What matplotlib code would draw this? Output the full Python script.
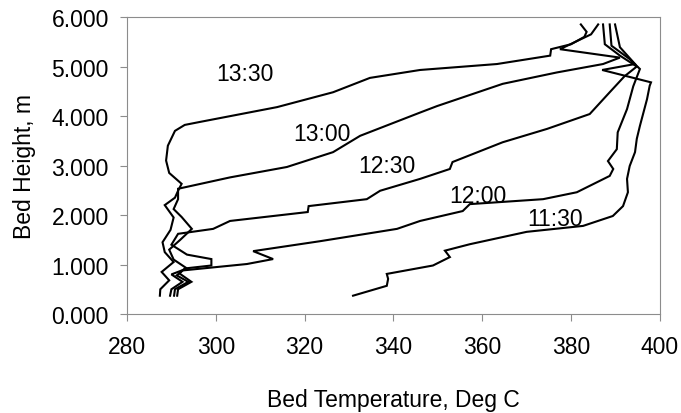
import matplotlib
matplotlib.use('Agg')
import matplotlib.pyplot as plt

plt.rcParams['font.family'] = ['Liberation Sans', 'DejaVu Sans']

# (temperature, height) traces, bottom to top
t_1130 = [330.9, 338.5, 338.8, 338.5, 348.9, 352.7, 351.6, 357.2, 370.0, 382.7,
          389.4, 391.7, 392.8, 392.6, 393.2, 394.4, 394.8, 395.5, 397.1, 397.7,
          398.0, 387.0, 394.4, 391.0, 389.9]
h_1130 = [0.37, 0.57, 0.71, 0.81, 0.98, 1.15, 1.28, 1.41, 1.66, 1.78,
          1.98, 2.18, 2.46, 2.73, 2.99, 3.27, 3.54, 3.80, 4.34, 4.61,
          4.68, 4.93, 5.05, 5.39, 5.85]

t_1200 = [290.6, 290.8, 293.8, 291.2, 292.5, 307.0, 312.9, 308.4, 323.4, 340.8,
          346.0, 355.6, 357.2, 373.7, 381.3, 388.7, 389.5, 388.3, 390.3, 390.5,
          392.6, 394.0, 395.5, 393.2, 389.1, 388.7]
h_1200 = [0.37, 0.50, 0.65, 0.78, 0.88, 1.01, 1.11, 1.27, 1.47, 1.72,
          1.88, 2.08, 2.22, 2.32, 2.46, 2.79, 2.93, 3.09, 3.33, 3.67,
          4.14, 4.60, 4.95, 5.15, 5.42, 5.85]

t_1230 = [291.3, 291.5, 294.5, 291.8, 293.0, 299.0, 299.0, 293.5, 290.0, 291.5,
          299.4, 303.2, 320.7, 320.9, 334.0, 337.0, 346.0, 352.7, 353.3, 364.6,
          374.6, 384.2, 388.7, 392.0, 394.8, 391.0, 387.6, 387.2]
h_1230 = [0.37, 0.50, 0.65, 0.82, 0.92, 0.98, 1.11, 1.20, 1.40, 1.62,
          1.72, 1.88, 2.06, 2.18, 2.32, 2.49, 2.73, 2.93, 3.07, 3.47,
          3.74, 4.04, 4.48, 4.80, 5.00, 5.22, 5.45, 5.85]

t_1300 = [289.7, 290.0, 292.5, 290.0, 293.5, 290.5, 289.5, 292.0, 294.6, 292.3,
          290.5, 291.5, 291.5, 303.2, 316.0, 326.4, 332.5, 346.0, 349.8, 364.6,
          376.8, 387.2, 391.0, 377.5, 381.0, 384.5, 386.1]
h_1300 = [0.37, 0.50, 0.65, 0.80, 0.92, 1.10, 1.30, 1.50, 1.72, 1.96,
          2.12, 2.32, 2.53, 2.76, 2.97, 3.27, 3.60, 4.07, 4.20, 4.65,
          4.88, 5.05, 5.18, 5.35, 5.50, 5.65, 5.85]

t_1330 = [287.4, 287.5, 289.5, 287.8, 290.5, 288.5, 288.0, 289.8, 290.5, 288.5,
          290.8, 291.5, 292.3, 289.5, 288.8, 289.2, 290.8, 293.0, 296.4, 313.8,
          326.4, 334.7, 346.0, 363.3, 375.3, 375.5, 380.0, 383.0, 383.5, 382.2]
h_1330 = [0.37, 0.50, 0.68, 0.85, 1.05, 1.25, 1.45, 1.70, 1.95, 2.20,
          2.35, 2.49, 2.63, 2.85, 3.10, 3.40, 3.70, 3.82, 3.88, 4.18,
          4.48, 4.77, 4.93, 5.05, 5.22, 5.35, 5.45, 5.60, 5.70, 5.85]

labels = ['13:30', '13:00', '12:30', '12:00', '11:30']
label_t = [306.6, 323.8, 338.5, 359.0, 376.4]
label_h = [4.85, 3.64, 3.00, 2.39, 1.92]

FS = 16.5

fig = plt.figure(figsize=(6.81, 4.14), dpi=100)
ax = fig.add_axes([0.1865, 0.2391, 0.7825, 0.7174])

for t, h in [(t_1130, h_1130), (t_1200, h_1200), (t_1230, h_1230),
             (t_1300, h_1300), (t_1330, h_1330)]:
    ax.plot(t, h, color='black', lw=1.5, solid_joinstyle='miter')

for lab, x, y in zip(labels, label_t, label_h):
    ax.text(x, y, lab, ha='center', va='center', fontsize=FS)

ax.set_xlim(280, 400)
ax.set_ylim(0, 6)
ax.set_xticks(range(280, 401, 20))
ax.set_yticks(range(0, 7))
ax.set_yticklabels(['%.3f' % v for v in range(0, 7)])

for s in ax.spines.values():
    s.set_color('#8c8c8c')
    s.set_linewidth(0.8)
ax.tick_params(axis='both', colors='#8c8c8c', labelcolor='black',
               labelsize=FS, length=5, width=0.8, direction='out')
ax.tick_params(axis='x', pad=10)
ax.tick_params(axis='y', pad=8)

ax.set_xlabel('Bed Temperature, Deg C', fontsize=FS, labelpad=22)
ax.set_ylabel('Bed Height, m', fontsize=FS, labelpad=11)

fig.savefig('out.png', dpi=100)
